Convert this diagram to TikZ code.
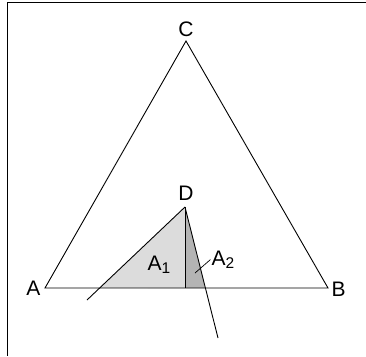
\documentclass[tikz,border=0pt]{standalone}
\usepackage{fontspec}
\setmainfont{Liberation Sans}
\usepackage{tikz}
\usetikzlibrary{calc}
\definecolor{AreaLight}{HTML}{DCDCDC}
\definecolor{AreaDark}{HTML}{B4B4B4}
\newcommand{\idx}[1]{\raisebox{-3.5pt}{\fontsize{15.5}{15.5}\selectfont #1}}

\begin{document}
\begin{tikzpicture}[
  x=1pt, y=-1pt,
  edge/.style={line width=0.9pt, draw=black},
  frame/.style={line width=1.2pt, draw=black},
  lbl/.style={font=\fontsize{21}{21}\selectfont, inner sep=0pt, anchor=base},
]
  \useasboundingbox (0,0) rectangle (366,356);

  % Frame
  \coordinate (frametop) at (366,2.5);
  \coordinate (framecorner) at (7.3,2.5);
  \coordinate (framebottom) at (7.3,356);
  \draw[frame] (frametop) -- (framecorner) -- (framebottom);

  % Corner points
  \coordinate (A) at (45,288);
  \coordinate (B) at (328,288);
  \coordinate (C) at (186,41);
  \coordinate (D) at (185,207);
  \coordinate (F) at (185,288);
  \coordinate (L) at (87,300);
  \coordinate (R) at (218,338);
  \coordinate (P) at (intersection of D--L and A--B);
  \coordinate (Q) at (intersection of D--R and A--B);

  % Shaded areas
  \fill[AreaLight] (D) -- (P) -- (F) -- cycle;
  \fill[AreaDark] (D) -- (F) -- (Q) -- cycle;

  % Triangle and lines
  \draw[edge] (A) -- (B) -- (C) -- cycle;
  \draw[edge] (D) -- (L);
  \draw[edge] (D) -- (R);
  \draw[edge] (D) -- (F);

  % Labels
  \node[lbl] (labelA) at (33.5,295) {A};
  \node[lbl] (labelB) at (338.5,296) {B};
  \node[lbl] (labelC) at (186,36) {C};
  \node[lbl] (labelD) at (186,200) {D};
  \node[lbl, anchor=base west] (labelA1) at (147.5,270) {A\idx{1}};
  \node[lbl, anchor=base west] (labelA2) at (211.5,265) {A\idx{2}};
  \coordinate (pin) at (195,273);
  \draw[edge, line width=0.7pt] (pin) -- ([shift={(-1,0)}]labelA2.west);
\end{tikzpicture}
\end{document}
